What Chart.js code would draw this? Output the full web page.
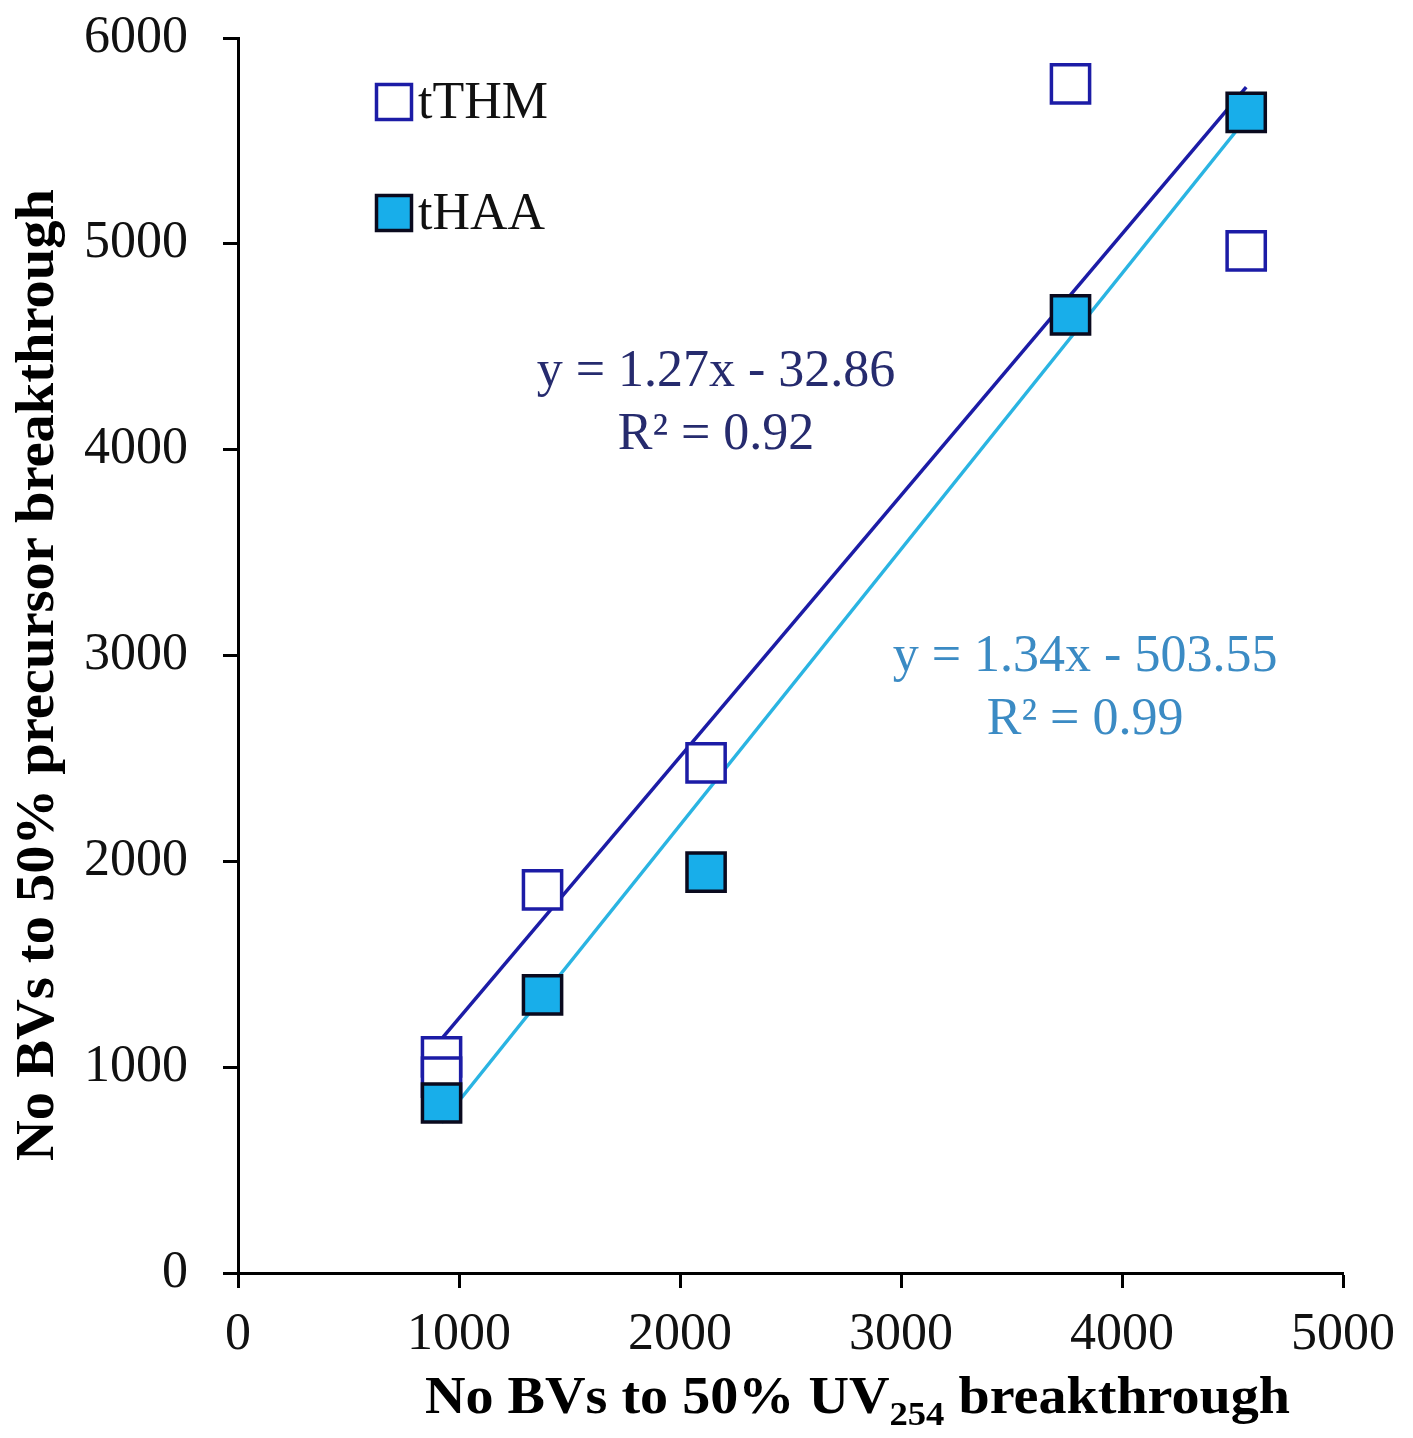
<!DOCTYPE html>
<html><head><meta charset="utf-8">
<script src="https://cdn.jsdelivr.net/npm/chart.js@4.4.0/dist/chart.umd.min.js"></script>
<style>html,body{margin:0;padding:0;background:#fff}#wrap{width:1413px;height:1438px;position:relative}</style>
</head><body><div id="wrap"><canvas id="c"></canvas></div>
<script>
// ---- data ----
const seriesNames = ['tTHM', 'tHAA'];
const tthmX = [921, 921, 1378, 2118, 3767, 4562];
const tthmY = [1050, 952, 1861, 2478, 5777, 4966];
const thaaX = [921, 1378, 2118, 3767, 4562];
const thaaY = [826, 1351, 1948, 4655, 5639];
const trendX = [921, 4562];
const tthmTrendY = [1137, 5761];
const thaaTrendY = [730, 5609];
const tthmEq = ['y = 1.27x - 32.86', 'R\u00B2 = 0.92'];
const thaaEq = ['y = 1.34x - 503.55', 'R\u00B2 = 0.99'];
const tthmEqAt = [2163, 4378];
const thaaEqAt = [3833, 2993];
const xTickVals = [0, 1000, 2000, 3000, 4000, 5000];
const yTickVals = [0, 1000, 2000, 3000, 4000, 5000, 6000];
const xTitleParts = ['No BVs to 50% UV', '254', ' breakthrough'];
const yTitle = 'No BVs to 50% precursor breakthrough';

const DARK = '#1c1ca6';
const FILL = '#18aeea';
const LIGHT = '#2ab4e2';
const SERIF = '"Liberation Serif", "Times New Roman", serif';

const pts = (xs, ys) => xs.map((x, i) => ({x, y: ys[i]}));

const overlay = {
  id: 'overlay',
  afterDraw(chart) {
    const ctx = chart.ctx;
    const xs = chart.scales.x, ys = chart.scales.y;
    ctx.save();
    // equations
    const drawEq = (lines, at, color) => {
      ctx.fillStyle = color;
      ctx.font = '52px ' + SERIF;
      ctx.textAlign = 'center';
      ctx.textBaseline = 'middle';
      const px = xs.getPixelForValue(at[0]);
      const py = ys.getPixelForValue(at[1]);
      ctx.fillText(lines[0], px, py);
      ctx.fillText(lines[1], px, py + 63);
    };
    drawEq(tthmEq, tthmEqAt, '#262b6e');
    drawEq(thaaEq, thaaEqAt, '#3b8bc4');

    // legend
    const ds = chart.data.datasets;
    const legendItems = [ds[1], ds[2]];
    legendItems.forEach((d, i) => {
      const cx = 394, cy = 102 + i * 111, s = 35;
      ctx.fillStyle = d.backgroundColor;
      ctx.fillRect(cx - s / 2, cy - s / 2, s, s);
      ctx.lineWidth = 3.5;
      ctx.strokeStyle = d.borderColor;
      ctx.strokeRect(cx - s / 2, cy - s / 2, s, s);
      ctx.fillStyle = '#111';
      ctx.font = '52px ' + SERIF;
      ctx.textAlign = 'left';
      ctx.textBaseline = 'middle';
      ctx.fillText(seriesNames[i], 418, cy + 2);
    });

    // x title with subscript
    const big = 'bold 52px ' + SERIF, small = 'bold 34px ' + SERIF;
    ctx.fillStyle = '#000';
    ctx.textAlign = 'left';
    ctx.textBaseline = 'alphabetic';
    ctx.font = big; const w0 = ctx.measureText(xTitleParts[0]).width;
    ctx.font = small; const w1 = ctx.measureText(xTitleParts[1]).width;
    ctx.font = big; const w2 = ctx.measureText(xTitleParts[2]).width;
    const total = w0 + w1 + w2;
    const sx = 865 / total;
    ctx.save();
    ctx.translate(425, 1413);
    ctx.scale(sx, 1);
    ctx.font = big; ctx.fillText(xTitleParts[0], 0, 0);
    ctx.font = small; ctx.fillText(xTitleParts[1], w0, 12);
    ctx.font = big; ctx.fillText(xTitleParts[2], w0 + w1, 0);
    ctx.restore();

    // y title
    ctx.save();
    ctx.font = 'bold 54px ' + SERIF;
    const wy = ctx.measureText(yTitle).width;
    const sy = 972 / wy;
    ctx.translate(53, 675);
    ctx.rotate(-Math.PI / 2);
    ctx.scale(sy, 1);
    ctx.textAlign = 'center';
    ctx.textBaseline = 'alphabetic';
    ctx.fillText(yTitle, 0, 0);
    ctx.restore();

    ctx.restore();
  }
};

const cfg = {
  type: 'scatter',
  data: {
    datasets: [
      {
        type: 'line', label: 'tTHM trend', data: pts(trendX, tthmTrendY),
        borderColor: DARK, borderWidth: 3.5, pointRadius: 0, fill: false, order: 5
      },
      {
        label: seriesNames[0], data: pts(tthmX, tthmY),
        pointStyle: 'rect', pointRadius: 27, pointHoverRadius: 27,
        backgroundColor: '#ffffff', borderColor: DARK, borderWidth: 3.5, order: 2
      },
      {
        label: seriesNames[1], data: pts(thaaX, thaaY),
        pointStyle: 'rect', pointRadius: 27, pointHoverRadius: 27,
        backgroundColor: FILL, borderColor: '#0a0a1e', borderWidth: 3.5, order: 1
      },
      {
        type: 'line', label: 'tHAA trend', data: pts(trendX, thaaTrendY),
        borderColor: LIGHT, borderWidth: 3.5, pointRadius: 0, fill: false, order: 4
      }
    ]
  },
  options: {
    responsive: true,
    maintainAspectRatio: false,
    animation: false,
    events: [],
    layout: { padding: { top: 38, right: 70, left: 0, bottom: 0 } },
    plugins: { legend: { display: false }, tooltip: { enabled: false } },
    scales: {
      x: {
        type: 'linear', min: 0, max: 5000,
        afterBuildTicks: s => { s.ticks = xTickVals.map(v => ({value: v})); },
        afterFit: s => { s.height = 165; s.paddingLeft = 0; s.paddingRight = 0; },
        border: { display: true, color: '#000', width: 3 },
        grid: { drawOnChartArea: false, drawTicks: true, tickLength: 15, tickWidth: 3, color: '#000' },
        ticks: { color: '#111', font: { family: SERIF, size: 52 }, padding: 16, maxRotation: 0, callback: v => String(v) }
      },
      y: {
        type: 'linear', min: 0, max: 6000,
        afterBuildTicks: s => { s.ticks = yTickVals.map(v => ({value: v})); },
        afterFit: s => { s.width = 238; s.paddingTop = 0; s.paddingBottom = 0; },
        border: { display: true, color: '#000', width: 3 },
        grid: { drawOnChartArea: false, drawTicks: true, tickLength: 15, tickWidth: 3, color: '#000' },
        ticks: { color: '#111', font: { family: SERIF, size: 52 }, padding: 35, callback: v => String(v) }
      }
    }
  },
  plugins: [overlay]
};
new Chart(document.getElementById('c'), cfg);
</script>
</body></html>
